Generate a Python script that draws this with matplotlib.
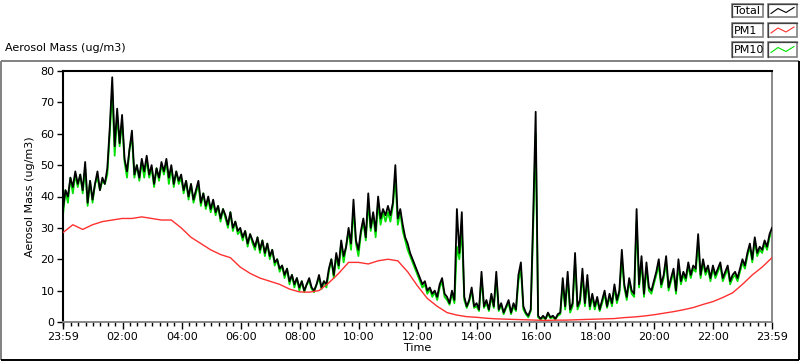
import numpy as np
import matplotlib
matplotlib.use("Agg")
import matplotlib.pyplot as plt
from matplotlib.patches import Rectangle

# ---------------- data (hours after 23:59) ----------------
# Total, 5-minute samples (12 per hour) + final point
total = [
    36, 42, 40, 46, 43, 48, 44, 47, 42, 51, 38, 45,
    39, 44, 48, 42, 46, 44, 49, 62, 78, 56, 68, 57,
    66, 52, 48, 55, 61, 47, 50, 46, 52, 48, 53, 47,
    50, 44, 49, 46, 51, 48, 52, 46, 50, 44, 48, 45,
    47, 42, 45, 40, 44, 39, 42, 45, 38, 41, 37, 40,
    36, 39, 35, 37, 33, 36, 34, 31, 35, 30, 32, 29,
    30, 27, 29, 25, 28, 26, 24, 27, 23, 26, 22, 25,
    21, 23, 19, 20, 17, 18, 15, 17, 13, 15, 12, 14,
    11, 13, 10, 12, 14, 11, 10, 12, 15, 11, 13, 12,
    17, 20, 15, 22, 18, 26, 21, 24, 30, 25, 39, 26,
    23, 29, 33, 27, 41, 30, 35, 29, 40, 33, 36, 34,
    37, 34, 38, 50, 33, 36, 31, 27, 25, 22, 20, 18,
    16, 14, 12, 13, 10, 11, 9, 10, 8, 12, 14, 9,
    8, 6, 10, 7, 36, 22, 35, 8, 5, 7, 11, 5,
    6, 4, 16, 5, 7, 4, 9, 5, 16, 4, 6, 3,
    5, 7, 3, 6, 4, 15, 19, 5, 3, 2, 4, 34,
    67, 2, 1, 2, 1, 3, 1.5, 2, 1, 2.5, 3, 14,
    5, 16, 4, 6, 22, 5, 7, 17, 6, 15, 5, 9,
    5, 8, 4, 7, 10, 5, 9, 6, 12, 7, 10, 23,
    12, 8, 14, 10, 9, 36, 12, 21, 9, 19, 11, 10,
    13, 16, 20, 12, 15, 21, 11, 14, 17, 10, 20, 13,
    16, 14, 19, 15, 18, 17, 28, 15, 20, 16, 18, 14,
    18, 15, 17, 19, 14, 16, 18, 13, 15, 16, 14, 17,
    20, 18, 22, 25, 20, 27, 22, 24, 23, 26, 24, 28,
    30,
]

# PM10, 5-minute samples (12 per hour) + final point
pm10 = [
    34, 42, 38, 46, 41, 47, 43, 47, 41, 49, 37, 45,
    38, 44, 46, 42, 45, 44, 47, 60, 74, 53, 66, 56,
    64, 51, 46, 55, 59, 46, 50, 45, 51, 46, 52, 46,
    49, 43, 49, 45, 50, 47, 51, 44, 49, 43, 48, 44,
    46, 41, 45, 39, 44, 38, 41, 44, 37, 41, 36, 39,
    35, 38, 34, 37, 32, 36, 33, 30, 35, 29, 32, 28,
    29, 26, 29, 24, 28, 25, 23, 27, 22, 26, 21, 25,
    20, 23, 18, 20, 16, 18, 14, 17, 12, 15, 11, 14,
    10, 13, 9.5, 12, 13, 10.5, 9.5, 12, 14, 10.5, 13, 11,
    16, 20, 14, 21, 17, 25, 19, 24, 29, 23, 36, 25,
    21, 28, 32, 26, 38, 29, 34, 27, 38, 31, 35, 32,
    35, 32, 37, 46, 31, 35, 29, 26, 23, 21, 19, 17,
    15, 13, 11, 12, 9, 10.5, 8, 9.5, 7, 11, 13, 8,
    7, 5.5, 9, 6, 24, 20, 30, 7, 4.5, 6.5, 10, 4.5,
    5, 3.5, 14, 4.5, 6, 3.5, 8, 4.5, 14, 3.5, 5.5, 2.5,
    4.5, 6, 2.5, 5, 3.5, 13, 17, 4, 2.5, 1.5, 3.5, 30,
    60, 1.5, 0.8, 1.5, 0.8, 2.5, 1.2, 1.5, 0.8, 2, 2.5, 12,
    4, 14, 3, 5, 19, 4, 6, 15, 5, 13, 4, 8,
    4, 7, 3.5, 6, 9, 4.5, 8, 5, 11, 6, 9, 20,
    11, 7, 13, 9, 8, 32, 11, 19, 8, 17, 10, 9,
    12, 15, 18, 11, 14, 19, 10, 13, 16, 9, 18, 12,
    15, 13, 18, 14, 17, 16, 25, 14, 19, 15, 17, 13,
    17, 14, 16, 18, 13, 15, 17, 12, 14, 15, 13, 16,
    19, 17, 21, 24, 19, 26, 21, 23, 22, 25, 23, 27,
    29,
]

# PM1, 20-minute samples (3 per hour) + final point
pm1 = [
    28.5, 31, 29.5,
    31, 32, 32.5,
    33, 33, 33.5,
    33, 32.5, 32.5,
    30, 27, 25,
    23, 21.5, 20.5,
    17.5, 15.5, 14,
    13, 12, 10.5,
    9.6, 9.5, 10,
    12.5, 15.5, 19,
    19, 18.5, 19.5,
    20, 19.5, 16,
    11.5, 7.5, 5,
    3, 2.2, 1.7,
    1.5, 1.2, 1.0,
    0.9, 0.8, 0.7,
    0.6, 0.5, 0.6,
    0.6, 0.7, 0.8,
    0.9, 1.0, 1.1,
    1.4, 1.6, 1.9,
    2.3, 2.8, 3.3,
    3.9, 4.6, 5.6,
    6.5, 7.8, 9.3,
    12, 15, 17.5,
    20.5,
]

xtick_labels = ["23:59", "02:00", "04:00", "06:00", "08:00", "10:00", "12:00",
                "14:00", "16:00", "18:00", "20:00", "22:00", "23:59"]
yticks = [0, 10, 20, 30, 40, 50, 60, 70, 80]
series_names = ["Total", "PM1", "PM10"]
series_colors = ["#000000", "#ff3030", "#00e000"]

# ---------------- figure ----------------
W, H = 800, 361
fig = plt.figure(figsize=(W / 100, H / 100), dpi=100)
fig.patch.set_facecolor("white")

# overlay in pixel coords for frame & legend
ov = fig.add_axes([0, 0, 1, 1])
ov.set_xlim(0, W)
ov.set_ylim(H, 0)
ov.axis("off")
ov.patch.set_alpha(0)

gray = "#808080"
ov.plot([0.5, 799], [61, 61], color=gray, lw=1.4, solid_capstyle="butt")
ov.plot([0.8, 0.8], [61, 360], color=gray, lw=1.4, solid_capstyle="butt")
ov.plot([799, 799], [61, 360], color="black", lw=1.4, solid_capstyle="butt")
ov.plot([0.5, 799], [360, 360], color="black", lw=1.4, solid_capstyle="butt")

ov.text(5, 48, "Aerosol Mass (ug/m3)", fontsize=8, va="center", ha="left")

box_rows = [(4, 17), (23, 37), (42, 57)]
for (y0, y1), name, col in zip(box_rows, series_names, series_colors):
    for xa, xb in [(732, 763), (768, 797)]:
        ov.add_patch(Rectangle((xa, y0), xb - xa, y1 - y0, fill=False,
                               edgecolor=gray, lw=1.2))
        ov.plot([xa, xa, xb], [y1, y0, y0], color="#404040", lw=0.9)
    ov.text(734, (y0 + y1) / 2 + 0.5, name, fontsize=8, va="center", ha="left")
    ym = (y0 + y1) / 2
    ov.plot([771, 778, 786, 794], [ym + 3, ym - 2, ym + 2, ym - 3],
            color=col, lw=0.8)

# main axes
left, right, top, bottom = 63, 772, 71, 322
ax = fig.add_axes([left / W, 1 - bottom / H, (right - left) / W, (bottom - top) / H])

t_total = np.linspace(0, 24, len(total))
t_pm10 = np.linspace(0, 24, len(pm10))
t_pm1 = np.linspace(0, 24, len(pm1))

ax.plot(t_pm10, pm10, color=series_colors[2], lw=1.3, zorder=2)
ax.plot(t_total, total, color=series_colors[0], lw=1.3, zorder=3)
ax.plot(t_pm1, pm1, color=series_colors[1], lw=1.0, zorder=4)

ax.set_xlim(0, 24)
ax.set_ylim(0, 80)

major = [0] + [2 * k + 1 / 60 for k in range(1, 12)] + [24]
ax.set_xticks(major)
ax.set_xticklabels(xtick_labels, fontsize=8)
minor = [1 / 60 + 0.25 * k for k in range(96)]
ax.set_xticks(minor, minor=True)
ax.set_yticks(yticks)
ax.set_yticklabels([str(v) for v in yticks], fontsize=8)

ax.tick_params(axis="x", which="major", direction="out", length=5, width=1,
               pad=2, colors="black")
ax.tick_params(axis="x", which="minor", direction="out", length=3, width=1,
               colors="black")
ax.tick_params(axis="y", which="major", direction="out", length=4, width=1,
               pad=2, colors="black")

ax.spines["left"].set_color("black")
ax.spines["top"].set_color("black")
ax.spines["left"].set_linewidth(1.5)
ax.spines["top"].set_linewidth(1.5)
ax.spines["right"].set_color(gray)
ax.spines["bottom"].set_color(gray)
ax.spines["right"].set_linewidth(1.3)
ax.spines["bottom"].set_linewidth(1.3)

ax.set_xlabel("Time", fontsize=8, labelpad=1)
ax.set_ylabel("Aerosol Mass (ug/m3)", fontsize=8, labelpad=4)

fig.savefig("out.png", dpi=100, facecolor="white")
